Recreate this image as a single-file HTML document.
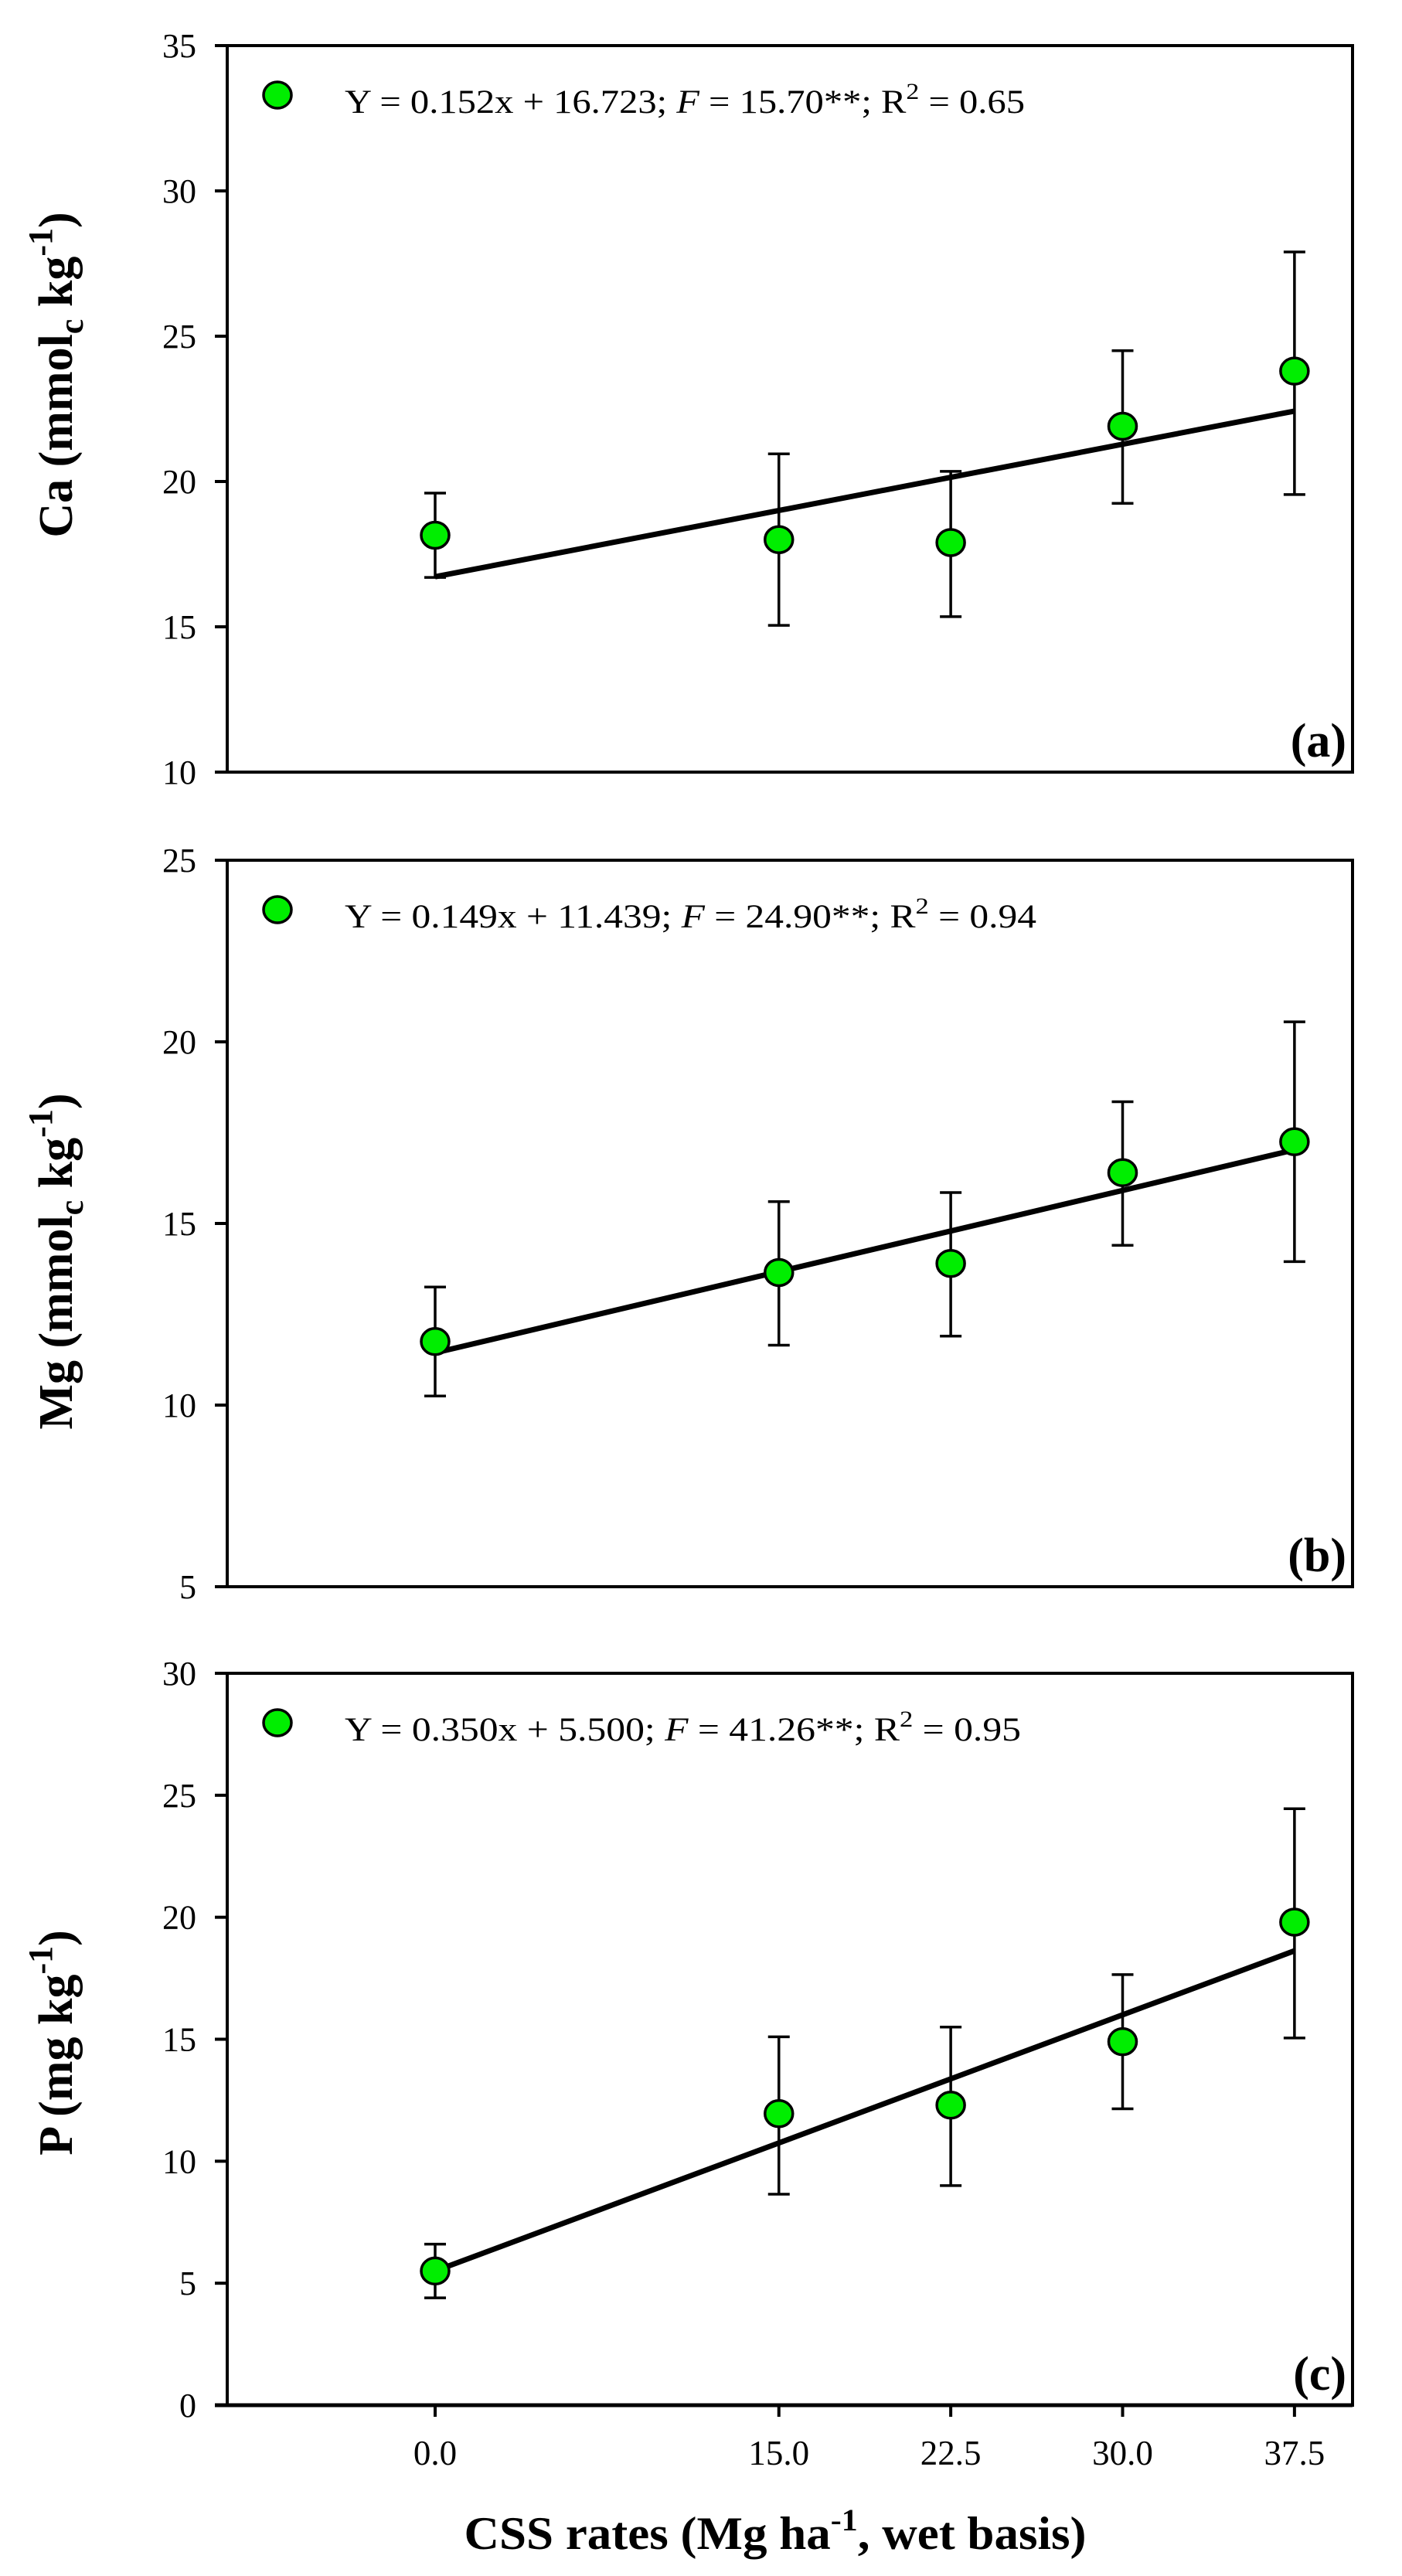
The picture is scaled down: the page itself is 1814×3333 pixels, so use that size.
<!DOCTYPE html>
<html><head><meta charset="utf-8">
<style>
html,body{margin:0;padding:0;background:#fff;}
svg{display:block;font-family:"Liberation Serif",serif;}
</style></head>
<body>
<svg id="chart" width="1814" height="3333" viewBox="0 0 1814 3333" xmlns="http://www.w3.org/2000/svg">
<rect width="1814" height="3333" fill="#fff"/>
</svg>
<script>
const rates = [0, 15, 22.5, 30, 37.5];
const xTickLabels = ["0.0", "15.0", "22.5", "30.0", "37.5"];
const caMeans = [18.15, 18.0, 17.9, 21.9, 23.8];
const caLow = [16.7, 15.05, 15.35, 19.25, 19.55];
const caHigh = [19.6, 20.95, 20.35, 24.5, 27.9];
const mgMeans = [11.75, 13.65, 13.9, 16.4, 17.25];
const mgLow = [10.25, 11.65, 11.9, 14.4, 13.95];
const mgHigh = [13.25, 15.6, 15.85, 18.35, 20.55];
const pMeans = [5.5, 11.95, 12.3, 14.9, 19.8];
const pLow = [4.4, 8.65, 9.0, 12.15, 15.05];
const pHigh = [6.6, 15.1, 15.5, 17.65, 24.45];
const caFit = [0.152, 16.723];
const mgFit = [0.149, 11.439];
const pFit = [0.350, 5.500];
const caTicks = [10, 15, 20, 25, 30, 35];
const mgTicks = [5, 10, 15, 20, 25];
const pTicks = [0, 5, 10, 15, 20, 25, 30];

const NS = "http://www.w3.org/2000/svg";
const svg = document.getElementById('chart');
function mk(tag, attrs, parent) {
  const e = document.createElementNS(NS, tag);
  for (const k in attrs) e.setAttribute(k, attrs[k]);
  (parent || svg).appendChild(e);
  return e;
}
const L = 294, R = 1750;
const X0 = 563, XS = 29.65;
function xs(v) { return X0 + v * XS; }

const panels = [
  {id:'a', top:59, bottom:999, ticks:caTicks, means:caMeans, lo:caLow, hi:caHigh, fit:caFit,
   eq:['Y = 0.152x + 16.723; ','15.70**; R','0.65'], ty:485, title:['Ca (mmol','c',' kg','-1',')'], tlen:386, eqLen:880},
  {id:'b', top:1113, bottom:2053, ticks:mgTicks, means:mgMeans, lo:mgLow, hi:mgHigh, fit:mgFit,
   eq:['Y = 0.149x + 11.439; ','24.90**; R','0.94'], ty:1632, title:['Mg (mmol','c',' kg','-1',')'], tlen:540, eqLen:895},
  {id:'c', top:2165, bottom:3112, ticks:pTicks, means:pMeans, lo:pLow, hi:pHigh, fit:pFit,
   eq:['Y = 0.350x + 5.500; ','41.26**; R','0.95'], ty:2643, title:['P (mg kg','-1',')'], tlen:330, eqLen:875}
];

panels.forEach(function(p){
  const g = mk('g', {});
  
  
  const vmin = p.ticks[0], vmax = p.ticks[p.ticks.length-1];
  const ys = v => p.bottom - (v - vmin) / (vmax - vmin) * (p.bottom - p.top);
  const frame = mk('rect', {x:L, y:p.top, width:R-L, height:p.bottom-p.top, fill:'none', stroke:'#000', 'stroke-width':4}, g);
  
  
  p.ticks.forEach(function(t){
    const tk = mk('line', {x1:L-16, x2:L, y1:ys(t), y2:ys(t), stroke:'#000', 'stroke-width':4}, g);
    
    
    const tl = mk('text', {x:254, y:ys(t)+15, 'text-anchor':'end', 'font-size':44}, g);
    
    
    tl.textContent = t;
  });
  // regression line
  const x1 = rates[0], x2 = rates[rates.length-1];
  const reg = mk('line', {x1:xs(x1), y1:ys(p.fit[0]*x1+p.fit[1]), x2:xs(x2), y2:ys(p.fit[0]*x2+p.fit[1]), stroke:'#000', 'stroke-width':7}, g);
  
  
  rates.forEach(function(r, i){
    const cx = xs(r);
    const eb = mk('path', {d:'M'+(cx-14)+','+ys(p.hi[i])+'H'+(cx+14)+'M'+cx+','+ys(p.hi[i])+'V'+ys(p.lo[i])+'M'+(cx-14)+','+ys(p.lo[i])+'H'+(cx+14), stroke:'#000', 'stroke-width':3.5, fill:'none'}, g);
    
    
    const pt = mk('ellipse', {cx:cx, cy:ys(p.means[i]), rx:18, ry:17, fill:'#00ee00', stroke:'#000', 'stroke-width':3.5}, g);
    
    
  });
  // legend
  const lm = mk('ellipse', {cx:359, cy:p.top+64, rx:18, ry:17, fill:'#00ee00', stroke:'#000', 'stroke-width':3.5}, g);
  
  
  const lt = mk('text', {x:446, y:p.top+87, 'font-size':43, textLength:p.eqLen, lengthAdjust:'spacingAndGlyphs'}, g);
  
  
  let s1 = mk('tspan', {}, lt); s1.textContent = p.eq[0];
  let s2 = mk('tspan', {'font-style':'italic'}, lt); s2.textContent = 'F';
  let s3 = mk('tspan', {}, lt); s3.textContent = ' = ' + p.eq[1];
  let s4 = mk('tspan', {dy:-18, 'font-size':30}, lt); s4.textContent = '2';
  let s5 = mk('tspan', {dy:18}, lt); s5.textContent = ' = ' + p.eq[2];
  // panel label
  const pl = mk('text', {x:1742, y:p.bottom-20, 'text-anchor':'end', 'font-size':62, 'font-weight':'bold'}, g);
  
  
  pl.textContent = '(' + p.id + ')';
  // y title
  const yt = mk('text', {x:0, y:0, transform:'translate(93,'+p.ty+') rotate(-90)', 'text-anchor':'middle', 'font-size':62, 'font-weight':'bold'}, g);
  
  
  const parts = p.title;
  if (parts.length === 5) {
    let a = mk('tspan', {}, yt); a.textContent = parts[0];
    let b = mk('tspan', {dy:14, 'font-size':44}, yt); b.textContent = parts[1];
    let c = mk('tspan', {dy:-14}, yt); c.textContent = parts[2];
    let d = mk('tspan', {dy:-26, 'font-size':44}, yt); d.textContent = parts[3];
    let e = mk('tspan', {dy:26}, yt); e.textContent = parts[4];
  } else {
    let a = mk('tspan', {}, yt); a.textContent = parts[0];
    let d = mk('tspan', {dy:-26, 'font-size':44}, yt); d.textContent = parts[1];
    let e = mk('tspan', {dy:26}, yt); e.textContent = parts[2];
  }
  if (p.id === 'c') {
    rates.forEach(function(r, i){
      const tk = mk('line', {x1:xs(r), x2:xs(r), y1:p.bottom, y2:p.bottom+15, stroke:'#000', 'stroke-width':4}, g);
      
      
      const tl = mk('text', {x:xs(r), y:3189, 'text-anchor':'middle', 'font-size':45}, g);
      
      
      tl.textContent = xTickLabels[i];
    });
    const ax = mk('line', {x1:L-16, x2:R, y1:p.bottom, y2:p.bottom, stroke:'#000', 'stroke-width':5}, g);
    
    
  }
});
const xt = mk('text', {x:1003, y:3298, 'text-anchor':'middle', 'font-size':60, 'font-weight':'bold', textLength:805, lengthAdjust:'spacingAndGlyphs'});


let xa = mk('tspan', {}, xt); xa.textContent = 'CSS rates (Mg ha';
let xb = mk('tspan', {dy:-24, 'font-size':40}, xt); xb.textContent = '-1';
let xc = mk('tspan', {dy:24}, xt); xc.textContent = ', wet basis)';
</script>
</body></html>
